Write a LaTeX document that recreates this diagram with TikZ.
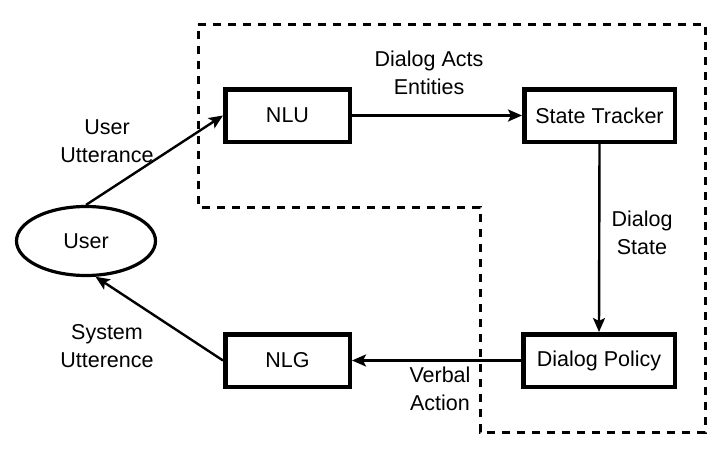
\documentclass[tikz,border=0pt]{standalone}
\usepackage{fontspec}
\setmainfont{Liberation Sans}
\usetikzlibrary{arrows.meta,shapes.geometric}
\begin{document}
\begin{tikzpicture}[x=1pt,y=-1pt,
  font=\fontsize{21.5}{26}\selectfont,
  box/.style={draw,line width=4.5pt,minimum height=52.5pt,inner sep=0pt},
  arr/.style={line width=2.4pt,-{Stealth[length=14pt,width=12pt,inset=3pt]}},
  lbl/.style={align=center,inner sep=0pt},
  region/.style={draw,line width=3pt,dash pattern=on 8pt off 7pt}]
\useasboundingbox (0,0) rectangle (720,455);
\path[region] (198,24) -- (705,24) -- (705,432) -- (480,432) -- (480,207) -- (198,207) -- cycle;
\node[box,minimum width=124.5pt] (nlu) at (287.5,115.5) {NLU};
\node[box,minimum width=150.5pt] (st) at (599.5,115.5) {State Tracker};
\node[box,minimum width=124.5pt] (nlg) at (287.5,360.5) {NLG};
\node[box,minimum width=151.5pt] (dp) at (599,360.5) {Dialog Policy};
\node[draw,ellipse,line width=3.2pt,minimum width=139pt,minimum height=69pt,inner sep=0pt] (user) at (86,241) {User};
\draw[arr] (user.north) -- (nlu.west);
\draw[arr] (nlu.east) -- (st.west);
\draw[arr] (st.south) -- (dp.north);
\draw[arr] (dp.west) -- (nlg.east);
\draw[arr] (nlg.west) -- (user.-75);
\node[lbl] (l1) at (107,141) {User\\[2pt]Utterance};
\node[lbl] (l2) at (429,73) {Dialog Acts\\[2pt]Entities};
\node[lbl] (l3) at (642,233) {Dialog\\[2pt]State};
\node[lbl] (l4) at (107,346) {System\\[2pt]Utterence};
\node[lbl] (l5) at (440,389) {Verbal\\[2pt]Action};
\end{tikzpicture}
\end{document}
